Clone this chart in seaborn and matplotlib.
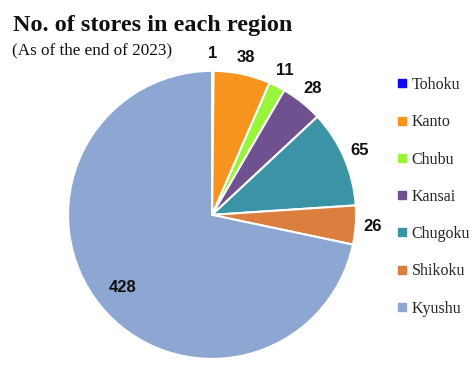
import numpy as np
import matplotlib
matplotlib.use("Agg")
import matplotlib.pyplot as plt
import seaborn as sns
from matplotlib.lines import Line2D

regions = ["Tohoku", "Kanto", "Chubu", "Kansai", "Chugoku", "Shikoku", "Kyushu"]
stores = [1, 38, 11, 28, 65, 26, 428]
colors = ["#0a0aee", "#f7941d", "#99f53a", "#70518f", "#3b93a6", "#db7e3e", "#8ea6d2"]

sns.set_theme(style="white")
plt.rcParams["font.family"] = ["Liberation Serif", "DejaVu Serif"]

fig = plt.figure(figsize=(4.76, 3.67), dpi=100)
fig.patch.set_facecolor("white")
ax = fig.add_axes([0.143, 0.022, 0.605, 0.785])

wedges, _ = ax.pie(stores, colors=colors, startangle=90, counterclock=False,
                   wedgeprops=dict(edgecolor="white", linewidth=1.5))
ax.set_xlim(-1, 1)
ax.set_ylim(-1, 1)
ax.set_aspect("auto")
ax.axis("off")

for i, (w, v) in enumerate(zip(wedges, stores)):
    mid = np.deg2rad((w.theta1 + w.theta2) / 2)
    r = 0.8 if i == len(stores) - 1 else 1.12
    ax.text(r * np.cos(mid), r * np.sin(mid), str(v), ha="center", va="center",
            fontsize=12, fontweight="bold", family=["Liberation Sans", "DejaVu Sans"],
            color="#111111")

fig.text(0.027, 0.915, "No. of stores in each region", fontsize=17.5, fontweight="bold",
         ha="left", va="baseline", color="#111111")
fig.text(0.025, 0.853, "(As of the end of 2023)", fontsize=12.3, ha="left", va="baseline",
         color="#111111")

handles = [Line2D([0], [0], marker="s", linestyle="none", markersize=6,
                  markerfacecolor=c, markeredgecolor=c) for c in colors]
leg = fig.legend(handles, regions, loc="upper left", bbox_to_anchor=(0.835, 0.79),
                 frameon=False, fontsize=11.5, labelspacing=1.33, handlelength=0.6,
                 handletextpad=0.3, borderaxespad=0, borderpad=0)

fig.savefig("out.png", dpi=100, facecolor="white")
